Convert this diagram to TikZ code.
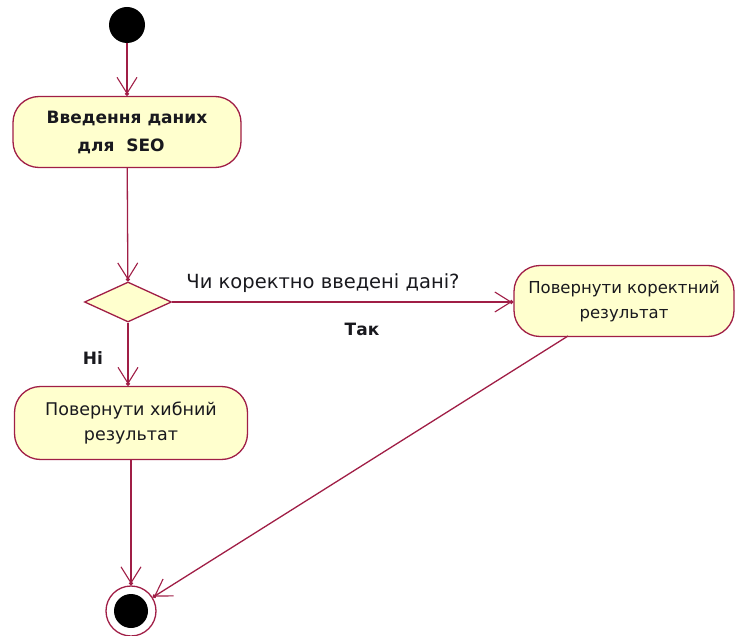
\documentclass[tikz,border=0pt]{standalone}
\usepackage{fontspec}
\setmainfont{DejaVu Sans}
\usetikzlibrary{arrows.meta,shapes.geometric}
\definecolor{umlline}{RGB}{160,30,70}
\definecolor{umlfill}{RGB}{255,255,206}
\definecolor{umltext}{RGB}{25,25,30}
\tikzset{
  flow/.style={draw=umlline, line width=1.3pt,
    -{Straight Barb[length=16pt,width=20pt,line width=1.1pt,sep=-2.5pt]Circle[length=4pt]}},
  activity/.style={draw=umlline, fill=umlfill, line width=1.3pt,
    rectangle, rounded corners=26pt, inner sep=0pt, align=center,
    text=umltext},
  decision/.style={draw=umlline, fill=umlfill, line width=1.3pt,
    diamond, aspect=2.2, minimum width=87pt, minimum height=40pt, inner sep=0pt},
  initial/.style={circle, fill=black, minimum size=36pt, inner sep=0pt},
  final/.style={circle, draw=umlline, line width=1.3pt, minimum size=50pt, inner sep=0pt,
    path picture={\fill[black] (path picture bounding box.center) circle (17pt);}},
  lbl/.style={text=umltext, inner sep=0pt}
}
\begin{document}
\begin{tikzpicture}[x=1pt,y=-1pt]
  \useasboundingbox (0,0) rectangle (736,636);

  % nodes
  \node[initial] (start) at (127,25) {};
  \node[activity, minimum width=228pt, minimum height=71pt,
        font=\bfseries\fontsize{17}{28}\selectfont] (input) at (127,132)
        {Введення даних\\\hspace*{-12pt}для~~SEO};
  \node[decision] (check) at (128,302) {};
  \node[activity, minimum width=220pt, minimum height=71pt,
        font=\fontsize{16.5}{25}\selectfont] (ok) at (624,301)
        {Повернути коректний\\результат};
  \node[activity, minimum width=233pt, minimum height=73pt,
        font=\fontsize{17.5}{25}\selectfont] (bad) at (131,423)
        {Повернути хибний\\результат};
  \node[final] (stop) at (131,611) {};
  \coordinate (okout) at (568,336);

  % connector labels
  \node[lbl, font=\fontsize{19.5}{21}\selectfont] (question) at (323,283) {Чи коректно введені дані?};
  \node[lbl, font=\bfseries\fontsize{17}{20}\selectfont] (yes) at (362,329) {Так};
  \node[lbl, font=\bfseries\fontsize{17}{20}\selectfont] (no) at (93,358) {Ні};

  % transitions
  \draw[flow] (start) -- (input);
  \draw[flow] (input) -- (check);
  \draw[flow] (check.east) -- (check.east -| ok.west);
  \draw[flow] (check.south) -- (check.south |- bad.north);
  \draw[flow] (bad) -- (stop);
  \draw[flow] (okout) -- (stop);
\end{tikzpicture}
\end{document}
